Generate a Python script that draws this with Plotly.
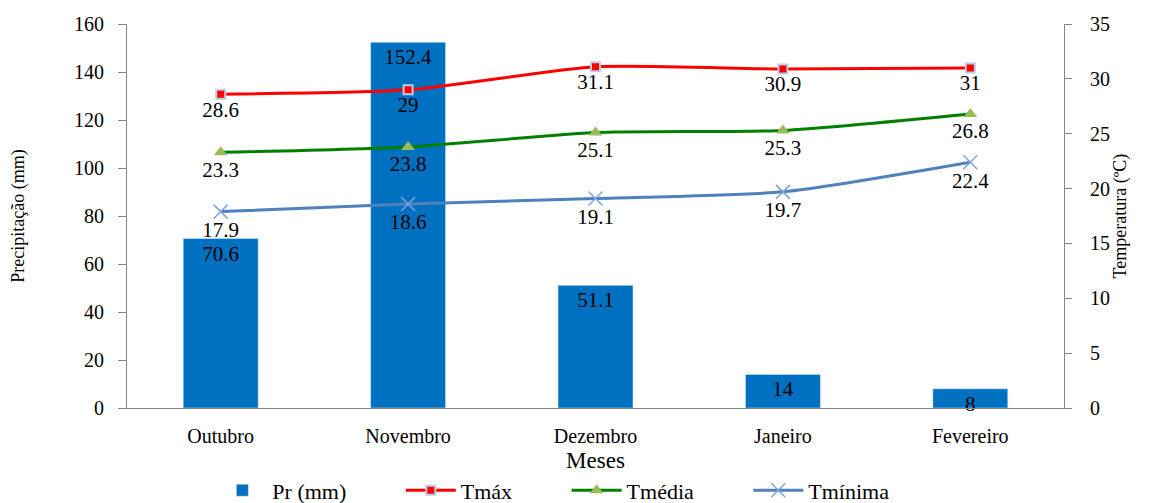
import plotly.graph_objects as go

meses = ["Outubro", "Novembro", "Dezembro", "Janeiro", "Fevereiro"]
precip = [70.6, 152.4, 51.1, 14, 8]
tmax = [28.6, 29, 31.1, 30.9, 31]
tmedia = [23.3, 23.8, 25.1, 25.3, 26.8]
tmin = [17.9, 18.6, 19.1, 19.7, 22.4]
nomes = ["Pr (mm)", "Tmáx", "Tmédia", "Tmínima"]

FONT = "Liberation Serif, Times New Roman, DejaVu Serif, serif"
PAD = "\u00a0" * 9
LBL = dict(family=FONT, size=21, color="black")

fig = go.Figure()
fig.add_trace(go.Bar(
    x=meses, y=precip, name=nomes[0] + PAD, marker_color="#0070C0",
    text=[str(v) for v in precip], textposition="inside", insidetextanchor="end",
    constraintext="none", textangle=0, textfont=LBL,
    cliponaxis=False,
))
fig.add_trace(go.Scatter(
    x=meses, y=tmax, name=nomes[1] + PAD, yaxis="y2", mode="lines+markers+text",
    line=dict(color="#FF0000", width=3, shape="spline", smoothing=0.6),
    marker=dict(symbol="square", size=9, color="#FF0000", line=dict(color="#B9CDE5", width=2)),
    text=[str(v) for v in tmax], textposition="bottom center", textfont=LBL,
))
fig.add_trace(go.Scatter(
    x=meses, y=tmedia, name=nomes[2] + PAD, yaxis="y2", mode="lines+markers+text",
    line=dict(color="#008000", width=3, shape="spline", smoothing=0.6),
    marker=dict(symbol="triangle-up", size=12, color="#9BBB59"),
    text=[str(v) for v in tmedia], textposition="bottom center", textfont=LBL,
))
fig.add_trace(go.Scatter(
    x=meses, y=tmin, name=nomes[3], yaxis="y2", mode="lines+markers+text",
    line=dict(color="#4F81BD", width=3, shape="spline", smoothing=0.6),
    marker=dict(symbol="x-thin-open", size=14, color="#7FA6D8", line=dict(color="#7FA6D8", width=1.5)),
    text=[str(v) for v in tmin], textposition="bottom center", textfont=LBL,
))

fig.update_layout(
    width=1165, height=495,
    margin=dict(l=119, r=109, t=16, b=95, autoexpand=False),
    paper_bgcolor="white", plot_bgcolor="white",
    font=dict(family=FONT, size=20, color="black"),
    bargap=0.6,
    showlegend=True,
    legend=dict(orientation="h", x=0.455, xanchor="center", y=-0.16, yanchor="top",
                font=dict(family=FONT, size=22), itemwidth=50),
    xaxis=dict(
        showline=True, linecolor="#868686", linewidth=1,
        ticks="outside", ticklen=10, tickcolor="rgba(0,0,0,0)",
        title=dict(text="Meses", font=dict(family=FONT, size=23), standoff=5),
        tickfont=dict(family=FONT, size=20),
    ),
    yaxis=dict(
        range=[0, 160], dtick=20, showgrid=False, zeroline=False,
        showline=True, linecolor="#868686", linewidth=1, ticks="outside",
        tickcolor="#868686", ticklen=8, ticklabelstandoff=10, tickfont=dict(family=FONT, size=20),
        title=dict(text="Precipitação (mm)", font=dict(family=FONT, size=18), standoff=44),
    ),
    yaxis2=dict(
        range=[0, 35], dtick=5, overlaying="y", side="right", showgrid=False, zeroline=False,
        showline=True, linecolor="#868686", linewidth=1, ticks="outside",
        tickcolor="#868686", ticklen=7, ticklabelstandoff=14, tickfont=dict(family=FONT, size=20),
        title=dict(text="Temperatura (ºC)", font=dict(family=FONT, size=18), standoff=0),
    ),
)

fig.write_html("out.html")
